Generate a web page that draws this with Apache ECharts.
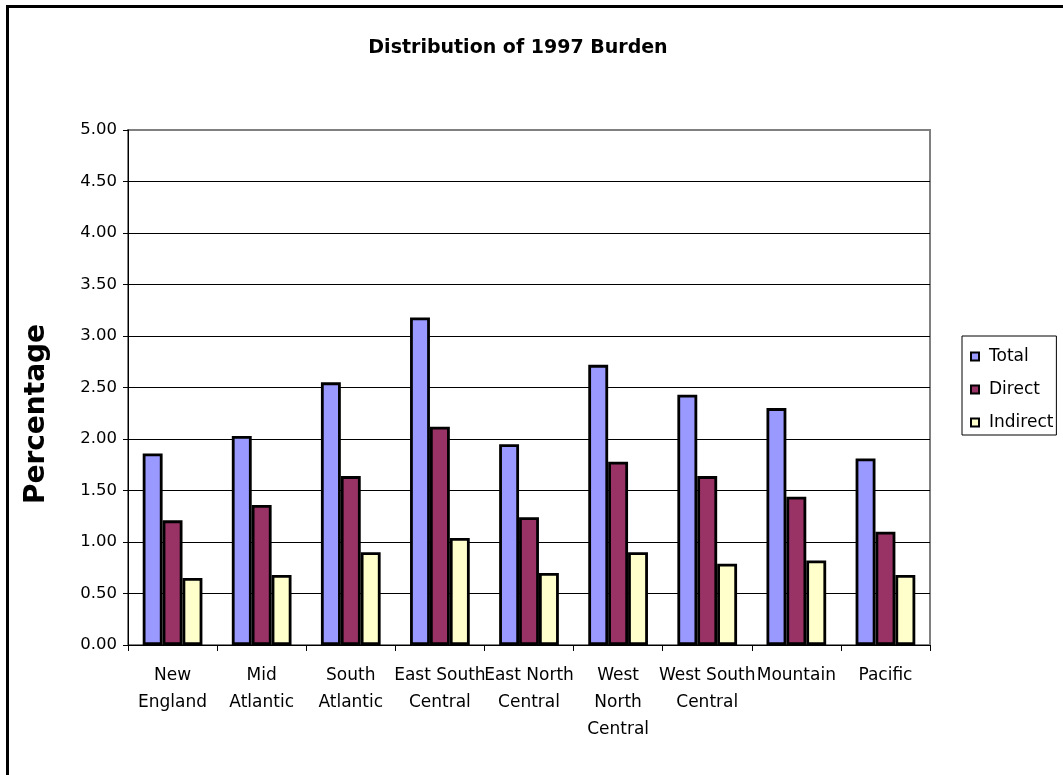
<!DOCTYPE html>
<html>
<head>
<meta charset="utf-8">
<title>Distribution of 1997 Burden</title>
<script src="https://cdn.jsdelivr.net/npm/echarts@6/dist/echarts.min.js"></script>
<style>
  html, body { margin: 0; padding: 0; background: #fff; }
  #chart { width: 1063px; height: 775px; }
</style>
</head>
<body>
<div id="chart"></div>
<script>
// Census regions along the category axis
const regions = [
  'New\nEngland', 'Mid\nAtlantic', 'South\nAtlantic', 'East South\nCentral',
  'East North\nCentral', 'West\nNorth\nCentral', 'West South\nCentral',
  'Mountain', 'Pacific'
];

// Burden shares (percent) per region
const totalBurden    = [1.86, 2.03, 2.55, 3.18, 1.95, 2.72, 2.43, 2.30, 1.81];
const directBurden   = [1.21, 1.36, 1.64, 2.12, 1.24, 1.78, 1.64, 1.44, 1.10];
const indirectBurden = [0.65, 0.68, 0.90, 1.04, 0.70, 0.90, 0.79, 0.82, 0.68];

const seriesNames = ['Total', 'Direct', 'Indirect'];
const seriesColors = ['#9999FF', '#993366', '#FFFFCC'];

const FONT = '"DejaVu Sans", "Liberation Sans", Arial, sans-serif';

const chart = echarts.init(document.getElementById('chart'), null, { renderer: 'canvas' });

function barSeries(name, data, color) {
  return {
    name: name,
    type: 'bar',
    data: data,
    barGap: '0%',
    barCategoryGap: '33%',
    itemStyle: { color: color, borderColor: '#000', borderWidth: 2.8 },
    emphasis: { disabled: true }
  };
}

chart.setOption({
  animation: false,
  backgroundColor: '#fff',
  title: {
    text: 'Distribution of 1997 Burden',
    left: 513,
    top: 34,
    textAlign: 'center',
    textStyle: { fontFamily: FONT, fontSize: 19, fontWeight: 'bold', color: '#000' }
  },
  legend: {
    orient: 'vertical',
    left: 962,
    top: 336,
    padding: [11, 3, 3, 8],
    itemGap: 14,
    itemWidth: 8,
    itemHeight: 8,
    icon: 'rect',
    borderColor: '#000',
    borderWidth: 1,
    selectedMode: false,
    textStyle: { fontFamily: FONT, fontSize: 17, color: '#000', lineHeight: 19, padding: [0, 0, 0, 5] },
    data: seriesNames
  },
  grid: {
    left: 128,
    right: 133,
    top: 130,
    bottom: 130,
    show: true,
    borderColor: '#808080',
    borderWidth: 2,
    backgroundColor: 'transparent'
  },
  xAxis: {
    type: 'category',
    data: regions,
    axisLine: { lineStyle: { color: '#000', width: 1 } },
    axisTick: { show: true, length: 6, interval: 0, lineStyle: { color: '#000' } },
    axisLabel: {
      interval: 0,
      margin: 17,
      fontFamily: FONT,
      fontSize: 17,
      lineHeight: 27,
      color: '#000'
    }
  },
  yAxis: {
    type: 'value',
    min: 0,
    max: 5,
    interval: 0.5,
    axisLine: { show: true, lineStyle: { color: '#000', width: 1 } },
    axisTick: { show: true, length: 5, lineStyle: { color: '#000' } },
    axisLabel: {
      margin: 11,
      fontFamily: FONT,
      fontSize: 16.5,
      color: '#000',
      formatter: v => v.toFixed(2)
    },
    splitLine: { show: true, showMaxLine: false, lineStyle: { color: '#000', width: 1 } }
  },
  graphic: [
    {
      type: 'rect',
      silent: true,
      shape: { x: 7.5, y: 6.5, width: 1100, height: 820 },
      style: { fill: 'none', stroke: '#000', lineWidth: 3 }
    },
    {
      type: 'text',
      silent: true,
      x: 37,
      y: 414,
      rotation: Math.PI / 2,
      style: {
        text: 'Percentage',
        fontFamily: FONT,
        fontSize: 28,
        fontWeight: 'bold',
        fill: '#000',
        align: 'center',
        verticalAlign: 'middle'
      }
    }
  ],
  series: [
    barSeries(seriesNames[0], totalBurden, seriesColors[0]),
    barSeries(seriesNames[1], directBurden, seriesColors[1]),
    barSeries(seriesNames[2], indirectBurden, seriesColors[2])
  ]
});
</script>
</body>
</html>
